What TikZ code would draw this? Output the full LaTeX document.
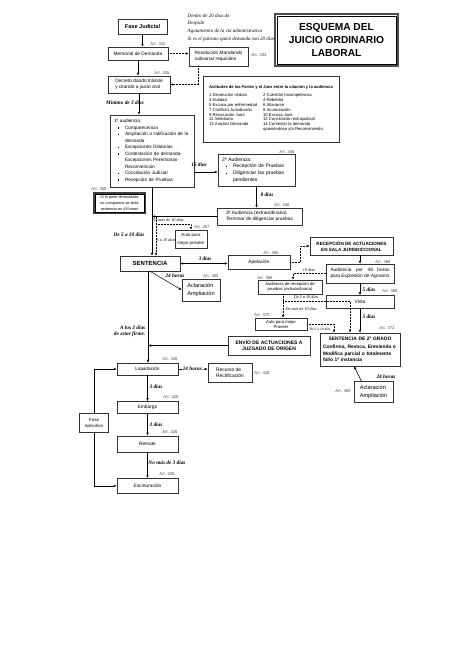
\documentclass[tikz,border=0pt]{standalone}
\usepackage{fontspec}
\setmainfont{Liberation Sans}
\newfontfamily\guion{Liberation Serif}
\usepackage{tikz}
\usetikzlibrary{arrows.meta,positioning}
\newcommand{\tam}[2]{\fontsize{#1}{#2}\selectfont}
\newcommand{\vineta}{\par\noindent\hangindent=11pt\hspace*{4pt}\makebox[7pt][l]{\rule[0.6pt]{1.4pt}{1.4pt}}}
\newcommand{\salto}{\hfil\break}

\begin{document}
\begin{tikzpicture}[
  x=1pt, y=-1pt,
  font=\tam{4.8}{5.8},
  box/.style={draw=black!80, line width=0.45pt, inner sep=1pt, align=center},
  izq/.style={box, align=left},
  negrita/.style={box, font=\bfseries\tam{5.2}{6.2}},
  art/.style={font=\tam{4.2}{4.8}, text=black!70, inner sep=0pt},
  plazo/.style={font=\guion\bfseries\itshape\tam{5.3}{6.3}, inner sep=0.5pt},
  nota/.style={font=\guion\itshape\tam{4.2}{5}, inner sep=0.5pt},
  arr/.style={-{Latex[length=3pt,width=2.4pt]}, line width=0.5pt},
  punteado/.style={arr, densely dotted}
]
\path[fill=white] (0,0) rectangle (474,670);

% fase judicial
\node[box, line width=1pt, font=\bfseries\tam{5.6}{6.6}, minimum width=49pt, minimum height=15pt] (fase) at (142.5,26.5) {Fase Judicial};
\node[box, draw=black!70, line width=2.4pt, font=\bfseries\tam{10.2}{13.3}, minimum width=123pt, minimum height=52pt] (titulo) at (336.5,40) {ESQUEMA DEL\\JUICIO ORDINARIO\\LABORAL};
\draw[line width=0.5pt] ([shift={(3pt,-3pt)}]titulo.north west) rectangle ([shift={(-3pt,3pt)}]titulo.south east);
\node[nota, anchor=north west, align=left, font=\guion\itshape\tam{5}{7.7}] (plazos) at (187,13) {Dentro de 20 días de:\\Despido\\Agotamiento de la vía administrativa\\Si es el patrono quien demanda son 20 días};

\node[box, minimum width=60pt, minimum height=13pt] (memorial) at (138,53.5) {Memorial de Demanda};
\node[izq, minimum width=59pt, minimum height=19pt] (resolucion) at (218.5,56.5) {Resolución Mandando\\subsanar requisitos};
\node[izq, minimum width=62pt, minimum height=17pt] (decreto) at (139,84.5) {Decreto dando trámite\\y citando a juicio oral};
\node[box, minimum width=136pt, minimum height=66pt, align=left] (actitudes) at (271,109) {{\bfseries\tam{4.1}{5}Actitudes de las Partes y el Juez entre la citación y la audiencia}\\[2.5pt]
  {\tam{4.2}{4.85}\begin{tabular}{@{}p{50pt}@{\hspace{4pt}}l@{}}
  1 Devolución cédula & 2 Cuestión Incompetencia\\
  3 Nulidad & 4 Rebeldía\\
  5 Excusa por enfermedad & 6 Allanarse\\
  7 Conflicto Jurisdicción & 8 Acumulación\\
  9 Recusación Juez & 10 Excusa Juez\\
  11 Inhibitoria & 12 Conciliación extrajudicial\\
  13 Ampliar Demanda & 14 Contestar la demanda\\
  & oponiéndose y/o Reconviniendo
  \end{tabular}}};

% audiencias
\node[box, align=left, text width=76pt, inner sep=4pt, minimum height=72pt, font=\tam{4.7}{6.5}] (aud1) at (152,151) {1ª audiencia:\vineta Comparecencia\vineta Ampliación o ratificación de la\salto demanda\vineta Excepciones Dilatorias\vineta Contestación de demanda-\salto Excepciones Perentorias-\salto Reconvención\vineta Conciliación Judicial\vineta Recepción de Pruebas\par};
\node[box, align=left, text width=69pt, inner sep=4pt, minimum height=30pt, font=\tam{5}{6.6}] (aud2) at (256.5,170) {2ª Audiencia:\vineta Recepción de Pruebas\vineta Diligenciar las pruebas\salto pendientes\par};
\node[izq, minimum width=85pt, minimum height=17pt] (aud3) at (259.5,216.5) {3ª Audiencia (extraordinaria)\\Terminar de diligenciar pruebas};
\node[box, draw=black!75, line width=1.5pt, minimum width=51pt, minimum height=20pt, font=\tam{3.8}{6}] (rebeldia) at (119.5,203) {Si la parte demandada\\no comparece se dicta\\sentencia en 48 horas};
\draw[line width=0.4pt] ([shift={(2pt,-2pt)}]rebeldia.north west) rectangle ([shift={(-2pt,2pt)}]rebeldia.south east);
\node[box, minimum width=32pt, minimum height=18pt, font=\tam{4.4}{8}] (auto1) at (191,239) {Auto para\\mejor proveer};

% sentencia y recursos
\node[negrita, font=\bfseries\tam{6}{7}, minimum width=60pt, minimum height=15pt] (sentencia) at (150,263.5) {SENTENCIA};
\node[box, minimum width=62pt, minimum height=14pt] (apelacion) at (259,262) {Apelación};
\node[izq, minimum width=38pt, minimum height=22pt, font=\tam{5.6}{7.5}] (aclara1) at (201,290) {Aclaración\\Ampliación};
\node[negrita, font=\bfseries\tam{4.6}{6}, minimum width=83pt, minimum height=18pt] (recepcion) at (351.5,246) {RECEPCIÓN DE ACTUACIONES\\EN SALA JURISDICCIONAL};
\node[box, minimum width=68pt, minimum height=19pt, font=\tam{4.8}{6.5}] (aud48) at (360,273.5) {\makebox[59pt][s]{Audiencia por 48 horas}\\para Expresión de Agravios};
\node[box, minimum width=68pt, minimum height=13pt, below=12pt of aud48] (vista) {Vista};
\node[box, minimum width=64pt, minimum height=14pt, font=\tam{4.2}{5.6}] (audrec) at (290,287) {Audiencia de recepción de\\pruebas (extraordinaria)};
\node[box, minimum width=52pt, minimum height=12pt, font=\tam{4.2}{5}] (auto2) at (281,324) {Auto para mejor\\Proveer};
\node[box, text width=74pt, inner sep=3pt, minimum height=33pt, align=left, font=\bfseries\tam{4.9}{6.5}] (sent2) at (360,349.5) {{\centering SENTENCIA DE 2º GRADO\par}\vspace{2pt}Confirma, Revoca, Enmienda o\\Modifica parcial o totalmente\\fallo 1ª instancia};
\node[negrita, font=\bfseries\tam{5}{6.3}, minimum width=82pt, minimum height=19pt] (envio) at (269,345.5) {ENVÍO DE ACTUACIONES A\\JUZGADO DE ORIGEN};
\node[izq, minimum width=39pt, minimum height=21pt, font=\tam{5.6}{7.5}] (aclara2) at (373.5,392) {Aclaración\\Ampliación};

% fase ejecutiva
\node[box, minimum width=61pt, minimum height=12pt] (liquidacion) at (147.5,369) {Liquidación};
\node[izq, minimum width=44pt, minimum height=19pt, font=\tam{4.9}{6.5}] (recurso) at (230,372.5) {Recurso de\\Rectificación};
\node[box, minimum width=61pt, minimum height=12pt, below=26pt of liquidacion] (embargo) {Embargo};
\node[box, minimum width=61pt, minimum height=16pt, below=22pt of embargo] (remate) {Remate};
\node[box, minimum width=61pt, minimum height=15pt, below=26pt of remate] (escritura) {Escrituración};
\node[box, minimum width=29pt, minimum height=19pt, font=\tam{4.5}{6}] (fasejec) at (94,423) {Fase\\ejecutiva};

% articulos
\node[art] (art332) at (158,44) {Art. 332};
\node[art] (art334) at (259,55) {Art. 334};
\node[art] (art335) at (162,73) {Art. 335};
\node[art] (art346a) at (287,152) {Art. 346};
\node[art] (art346b) at (282,205) {Art. 346};
\node[art] (art358) at (99,189) {Art. 358};
\node[art] (art357) at (202,227) {Art. 357};
\node[art] (art365a) at (211,276) {Art. 365};
\node[art] (art365b) at (271,253) {Art. 365};
\node[art] (art368a) at (383,262) {Art. 368};
\node[art] (art368b) at (390,291) {Art. 368};
\node[art] (art369) at (265,278) {Art. 369};
\node[art] (art370) at (262,315) {Art. 370};
\node[art] (art372) at (387,328) {Art. 372};
\node[art] (art365c) at (343,391) {Art. 365};
\node[art] (art426a) at (170,359) {Art. 426};
\node[art] (art426b) at (262,373) {Art. 426};
\node[art] (art426c) at (171,397) {Art. 426};
\node[art] (art426d) at (170,432) {Art. 426};
\node[art] (art426e) at (167,474) {Art. 426};

% plazos
\node[plazo] (minimo) at (125,103) {Mínimo de 3 días};
\node[plazo] (p15) at (199,165) {15 días};
\node[plazo] (p8) at (267,195) {8 días};
\node[plazo] (p510) at (129,235) {De 5 a 10 días};
\node[plazo] (p3) at (205,259) {3 días};
\node[plazo] (p24a) at (175,276) {24 horas};
\node[plazo, anchor=east, align=right] (firme) at (146,331) {A los 3 días\\de estar firme.};
\node[plazo] (p3b) at (156,387) {3 días};
\node[plazo] (p3c) at (156,425) {3 días};
\node[plazo] (p3d) at (167,463) {No más de 3 días};
\node[plazo] (p5a) at (369,290) {5 días};
\node[plazo] (p5b) at (369,317) {5 días};
\node[plazo] (p24c) at (386,377) {24 horas};
\node[nota] (mas10a) at (168,220.5) {De más de 10 días};
\node[nota] (n510a) at (166,240) {5 a 10 días};
\node[nota] (n10) at (309,270) {10 días};
\node[nota] (n510b) at (306,297.5) {De 5 a 10 días};
\node[nota, anchor=west] (mas10b) at (285,309) {De más de 10 días};
\node[nota, font=\guion\itshape\tam{3.6}{4}] (n510c) at (320,329) {De 5 a 10 días};

% conectores
\draw[arr] (fase.south) -- (fase.south |- memorial.north);
\draw[arr] (memorial) -- (memorial |- decreto.north);
\draw[punteado] (memorial.east) -- (memorial.east -| resolucion.west);
\draw[punteado] ([xshift=-20pt]resolucion.south) |- (decreto.east);
\draw[arr] (decreto) -- (decreto |- aud1.north);
\draw[arr] ([yshift=-21pt]aud1.east) -- ([yshift=-21pt]aud1.east -| aud2.west);
\draw[arr] (aud2) -- (aud2 |- aud3.north);
\draw[arr] (aud3.west) -- (aud3.west -| aud1.south);
\draw[arr] (aud1.south) -- (aud1.south |- sentencia.north);
\coordinate (j1) at (156,216.5);
\coordinate (j2) at (156,224);
\draw[punteado] (j1) -- (j2) -| (auto1.north);
\draw[punteado] (j2) -- (j2 |- sentencia.north);
\draw[{Latex[length=3pt,width=2.4pt]}-{Latex[length=3pt,width=2.4pt]}, line width=0.5pt] (sentencia.east) -- (sentencia.east -| apelacion.west);
\draw[arr] (sentencia.south) -- (aclara1.west);
\draw[arr, line width=0.3pt] ([xshift=-2pt]sentencia.south) -- ([xshift=-2pt]sentencia.south |- liquidacion.north);
\draw[arr] (envio.west) -- ([xshift=-2pt]envio.west -| sentencia.south);
\draw[punteado] (apelacion.east) -- ++(10pt,0pt) |- (recepcion.west);
\draw[arr] (aud48.north |- recepcion.south) -- (aud48.north);
\draw[arr] (aud48.south) -- (vista.north);
\draw[arr] (vista.south) -- (vista.south |- sent2.north);
\draw[punteado] (aud48.west) -| ([xshift=3pt]audrec.north);
\draw[punteado] ([xshift=-7pt]audrec.south) -- ([xshift=-7pt]audrec.south |- auto2.north);
\coordinate (r1) at (283,301);
\draw[punteado] (r1) -| ([xshift=-10pt]sent2.north);
\draw[punteado] (auto2.east) -| ([xshift=-26pt]sent2.north);
\draw[arr] ([xshift=-12pt]aclara2.north) -- ([xshift=-6pt]sent2.south);
\draw[arr] (liquidacion.east) -- (liquidacion.east -| recurso.west) node[midway, plazo, fill=white] (p24b) {24 horas.};
\draw[arr] (liquidacion) -- (embargo);
\draw[arr] (embargo) -- (remate);
\draw[arr] (remate) -- (escritura);
\draw[arr] (fasejec.north) |- (liquidacion.west);
\draw[arr] (fasejec.south) |- (escritura.west);
\end{tikzpicture}
\end{document}
